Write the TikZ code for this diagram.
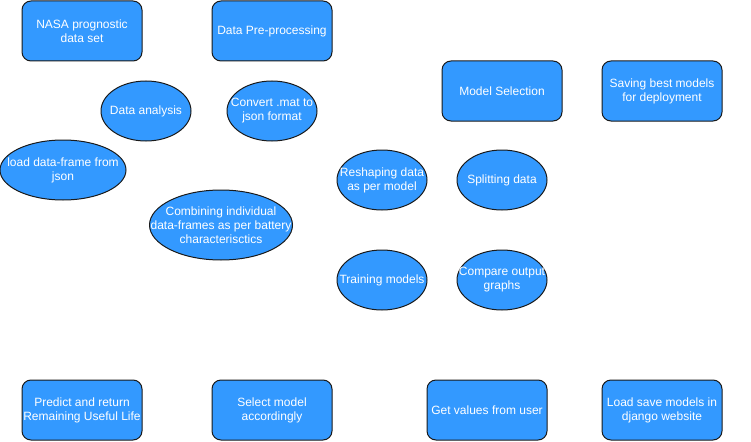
\documentclass[tikz,border=0pt]{standalone}
\usepackage{fontspec}
\setmainfont{Liberation Sans}
\usetikzlibrary{shapes.geometric}
\definecolor{stepblue}{HTML}{3399FF}
\definecolor{stepline}{HTML}{1A1A1A}
\tikzset{
	stagebox/.style={draw=stepline, fill=stepblue, line width=1pt, rounded corners=9pt, minimum width=120pt, minimum height=60pt, inner sep=0pt},
	stageblob/.style={draw=stepline, fill=stepblue, line width=1pt, ellipse, inner sep=0pt},
	stagetext/.style={text=white, align=center, font=\fontsize{12}{14}\selectfont, inner sep=0pt}
}
\begin{document}
\begin{tikzpicture}[x=1pt,y=-1pt]
			\useasboundingbox (0,0) rectangle (751,441);
			\node[stagebox, stagetext] (nasa) at (82,31) {NASA prognostic\\data set};
			\node[stagebox, stagetext] (prep) at (272,31) {Data Pre-processing};
			\node[stagebox, stagetext] (msel) at (502,91) {Model Selection};
			\node[stagebox, stagetext] (save) at (662,91) {Saving best models\\for deployment};
			\node[stagebox, stagetext] (predict) at (82,410) {Predict and return\\Remaining Useful Life};
			\node[stagebox, stagetext] (select) at (272,410) {Select model\\accordingly};
			\node[stagebox, stagetext] (getval) at (487,410) {Get values from user};
			\node[stagebox, stagetext] (django) at (662,410) {Load save models in\\django website};
			\node[stageblob, minimum width=90pt, minimum height=60pt] (analysis) at (146,111) {};
			\node[stageblob, minimum width=90pt, minimum height=60pt] (convert) at (272,111) {};
			\node[stageblob, minimum width=126pt, minimum height=60pt] (loadjson) at (63,170) {};
			\node[stageblob, minimum width=143pt, minimum height=70pt] (combine) at (221,225) {};
			\node[stageblob, minimum width=90pt, minimum height=60pt] (reshape) at (382,180) {};
			\node[stageblob, minimum width=90pt, minimum height=60pt] (split) at (502,180) {};
			\node[stageblob, minimum width=90pt, minimum height=60pt] (train) at (382,280) {};
			\node[stageblob, minimum width=90pt, minimum height=60pt] (compare) at (502,280) {};
			\node[stagetext] (analysis-t) at (analysis) {Data analysis};
			\node[stagetext] (convert-t) at (convert) {Convert .mat to\\json format};
			\node[stagetext] (loadjson-t) at (loadjson) {load data-frame from\\json};
			\node[stagetext] (combine-t) at (combine) {Combining individual\\data-frames as per battery\\characterisctics};
			\node[stagetext] (reshape-t) at (reshape) {Reshaping data\\as per model};
			\node[stagetext] (split-t) at (split) {Splitting data};
			\node[stagetext] (train-t) at (train) {Training models};
			\node[stagetext] (compare-t) at (compare) {Compare output\\graphs};
		\end{tikzpicture}
\end{document}
